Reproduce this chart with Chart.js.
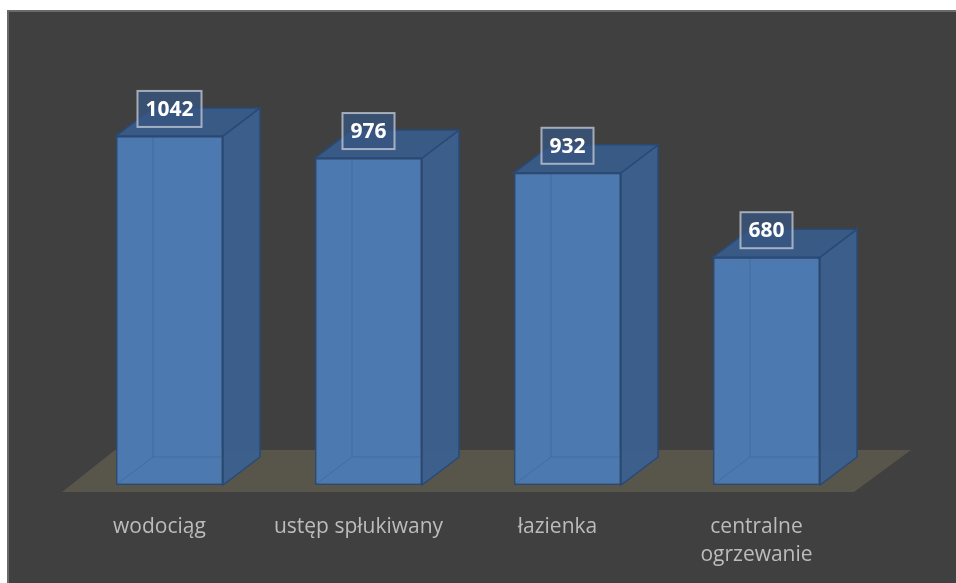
<!doctype html>
<html>
<head>
<meta charset="utf-8">
<title>wyposazenie mieszkan</title>
<script src="https://cdn.jsdelivr.net/npm/chart.js@4.4.0/dist/chart.umd.min.js"></script>
<style>
body{ margin:0; background:#fff; }
#holder{
    position:absolute; left:7px; top:10px; width:949px; height:573px;
    background:#404040; box-sizing:border-box;
    border-top:2px solid #6a6a6a; border-left:2px solid #6a6a6a;
}
</style>
</head>
<body>
<div id="holder"><canvas id="chart-area" width="947" height="571"></canvas></div>
<script>
var categories = ['wodociąg', 'ustęp spłukiwany', 'łazienka', ['centralne', 'ogrzewanie']];
var values = [1042, 976, 932, 680];

var DX = 37, DY = -28; // depth of the 3d boxes

var box3d = {
    id: 'box3d',
    beforeDatasetsDraw: function(chart) {
        var ctx = chart.ctx, a = chart.chartArea;
        // floor
        ctx.save();
        ctx.fillStyle = '#58554b';
        ctx.beginPath();
        ctx.moveTo(a.left - 8, a.bottom + 7);
        ctx.lineTo(a.right - 12, a.bottom + 7);
        ctx.lineTo(a.right + 45, a.bottom - 35);
        ctx.lineTo(a.left + 45, a.bottom - 35);
        ctx.closePath();
        ctx.fill();
        ctx.restore();
    },
    afterDatasetsDraw: function(chart) {
        var ctx = chart.ctx;
        var meta = chart.getDatasetMeta(0);
        ctx.save();
        meta.data.forEach(function(bar, i) {
            var l = bar.x - bar.width / 2, r = bar.x + bar.width / 2, t = bar.y, b = bar.base;
            // faint back edges seen through the front face
            ctx.strokeStyle = 'rgba(45,78,125,0.3)';
            ctx.lineWidth = 1;
            ctx.beginPath();
            ctx.moveTo(l, b); ctx.lineTo(l + DX, b + DY);
            ctx.lineTo(r, b + DY);
            ctx.moveTo(l + DX, b + DY); ctx.lineTo(l + DX, t);
            ctx.stroke();

            ctx.lineWidth = 1.5;
            ctx.strokeStyle = '#294a76';
            // side
            ctx.fillStyle = 'rgba(60,96,142,0.95)';
            ctx.beginPath();
            ctx.moveTo(r, t); ctx.lineTo(r + DX, t + DY); ctx.lineTo(r + DX, b + DY); ctx.lineTo(r, b);
            ctx.closePath(); ctx.fill(); ctx.stroke();
            // top
            ctx.fillStyle = 'rgba(58,92,138,0.95)';
            ctx.beginPath();
            ctx.moveTo(l, t); ctx.lineTo(l + DX, t + DY); ctx.lineTo(r + DX, t + DY); ctx.lineTo(r, t);
            ctx.closePath(); ctx.fill(); ctx.stroke();

            // value label
            var txt = String(values[i]);
            ctx.font = 'bold 21px "Open Sans"';
            var w = ctx.measureText(txt).width + 16, h = 36;
            var cx = bar.x, cy = t - 27;
            ctx.fillStyle = 'rgba(55,85,128,0.75)';
            ctx.fillRect(cx - w / 2, cy - h / 2, w, h);
            ctx.strokeStyle = 'rgba(210,215,225,0.7)';
            ctx.lineWidth = 2;
            ctx.strokeRect(cx - w / 2, cy - h / 2, w, h);
            ctx.fillStyle = '#ffffff';
            ctx.textAlign = 'center';
            ctx.textBaseline = 'middle';
            ctx.fillText(txt, cx, cy + 1);

            // category label
            var lab = chart.data.labels[i];
            if (!Array.isArray(lab)) lab = [lab];
            ctx.font = '21px "Open Sans"';
            ctx.fillStyle = '#bcbcbc';
            lab.forEach(function(line, k) {
                ctx.fillText(line, bar.x - 10, b + 42 + k * 28);
            });
        });
        ctx.restore();
    }
};

var config = {
    type: 'bar',
    data: {
        labels: categories,
        datasets: [{
            data: values,
            backgroundColor: 'rgb(76,121,176)',
            borderColor: '#294a76',
            borderWidth: 1.5,
            borderSkipped: false,
            barPercentage: 0.538,
            categoryPercentage: 1
        }]
    },
    options: {
        responsive: false,
        animation: false,
        layout: { padding: { left: 61, right: 90, top: 71, bottom: 98 } },
        plugins: { legend: { display: false }, tooltip: { enabled: false } },
        scales: {
            x: { display: false },
            y: { display: false, min: 0, max: 1200 }
        }
    },
    plugins: [box3d]
};

window.onload = function() {
    var ctx = document.getElementById('chart-area').getContext('2d');
    window.myBar = new Chart(ctx, config);
};
</script>
</body>
</html>
